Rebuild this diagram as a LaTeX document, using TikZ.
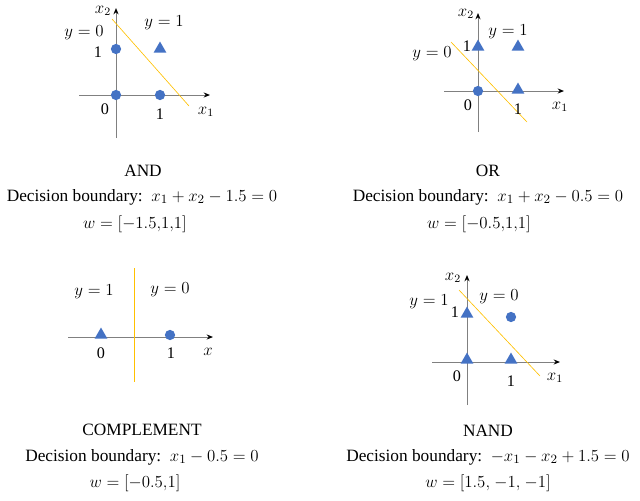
\documentclass[tikz,border=0pt]{standalone}
\usepackage{fontspec}
\setmainfont{Liberation Serif}
\usetikzlibrary{arrows.meta,shapes.geometric}

\definecolor{ptblue}{HTML}{4472C4}
\definecolor{axisgray}{HTML}{808080}
\definecolor{boundyellow}{HTML}{FFC000}

\begin{document}
\begin{tikzpicture}[
  x=0.025cm, y=-0.025cm,
  axis/.style={draw=axisgray, line width=0.7pt, -{Stealth[black, length=4.5pt, width=3.6pt]}},
  vaxis/.style={draw=axisgray, line width=0.7pt},
  bound/.style={draw=boundyellow, line width=0.45pt},
  posmark/.style={regular polygon, regular polygon sides=3, fill=ptblue, inner sep=0pt, minimum size=10.6pt},
  negmark/.style={circle, fill=ptblue, inner sep=0pt, minimum size=7.3pt},
  lbl/.style={inner sep=0pt, font=\fontsize{11.5}{13}\selectfont},
  caption/.style={inner sep=0pt, font=\fontsize{12.3}{14}\selectfont}
]
\useasboundingbox (0,0) rectangle (640,501);

% AND
\draw[vaxis] (116,138) -- (116,95);
\draw[axis] (79,95) -- (210,95);
\draw[axis] (116,95) -- (116,8);
\draw[bound] (112,19) -- (189,106);
\node[negmark] (and00) at (116,95) {};
\node[negmark] (and10) at (160,95) {};
\node[negmark] (and01) at (116,49) {};
\node[posmark] (and11) at (160,49) {};
\node[lbl] (andx2) at (103,11) {$x_2$};
\node[lbl] (andy0) at (84,33) {$y=0$};
\node[lbl] (andy1) at (164,23) {$y=1$};
\node[lbl] (andone) at (98,52) {1};
\node[lbl] (andzero) at (105,109) {0};
\node[lbl] (andonex) at (160,114) {1};
\node[lbl] (andx1) at (206,112) {$x_1$};
\node[caption] (andname) at (143,171) {AND};
\node[caption] (anddb) at (142,197) {Decision boundary:\ \ $x_1+x_2-1.5=0$};
\node[caption] (andw) at (135,224) {$w=[-1.5{,}1{,}1]$};

% OR
\draw[vaxis] (478,132) -- (478,91);
\draw[axis] (444,91) -- (564,91);
\draw[axis] (478,91) -- (478,13);
\draw[bound] (451,42) -- (527,122);
\node[negmark] (or00) at (478,91) {};
\node[posmark] (or10) at (518,90) {};
\node[posmark] (or01) at (478,47) {};
\node[posmark] (or11) at (518,47) {};
\node[lbl] (orx2) at (466,14) {$x_2$};
\node[lbl] (ory1) at (508,32) {$y=1$};
\node[lbl] (ory0) at (432,54) {$y=0$};
\node[lbl] (orone) at (467,46) {1};
\node[lbl] (orzero) at (468,105) {0};
\node[lbl] (oronex) at (518,109) {1};
\node[lbl] (orx1) at (560,107) {$x_1$};
\node[caption] (orname) at (488,171) {OR};
\node[caption] (ordb) at (488,197) {Decision boundary:\ \ $x_1+x_2-0.5=0$};
\node[caption] (orw) at (479,224) {$w=[-0.5{,}1{,}1]$};

% COMPLEMENT
\draw[axis] (68,337) -- (213,337);
\draw[bound] (134,268) -- (134,382);
\node[posmark] (comp0) at (101,335) {};
\node[negmark] (comp1) at (170,335) {};
\node[lbl] (compy1) at (94,292) {$y=1$};
\node[lbl] (compy0) at (170,290) {$y=0$};
\node[lbl] (compzero) at (101,353) {0};
\node[lbl] (compone) at (171,353) {1};
\node[lbl] (compx) at (208,352) {$x$};
\node[caption] (compname) at (142,430) {COMPLEMENT};
\node[caption] (compdb) at (142,457) {Decision boundary:\ \ $x_1-0.5=0$};
\node[caption] (compw) at (135,483) {$w=[-0.5{,}1]$};

% NAND
\draw[vaxis] (467,405) -- (467,362);
\draw[axis] (432,362) -- (560,362);
\draw[axis] (467,362) -- (467,275);
\draw[bound] (459,290) -- (540,376);
\node[posmark] (nand00) at (467,360) {};
\node[posmark] (nand10) at (511,360) {};
\node[posmark] (nand01) at (467,314) {};
\node[negmark] (nand11) at (511,317) {};
\node[lbl] (nandx2) at (453,278) {$x_2$};
\node[lbl] (nandy1) at (429,302) {$y=1$};
\node[lbl] (nandy0) at (499,297) {$y=0$};
\node[lbl] (nandone) at (455,312) {1};
\node[lbl] (nandzero) at (457,376) {0};
\node[lbl] (nandonex) at (511,381) {1};
\node[lbl] (nandx1) at (555,378) {$x_1$};
\node[caption] (nandname) at (488,431) {NAND};
\node[caption] (nanddb) at (488,457) {Decision boundary:\ \ $-x_1-x_2+1.5=0$};
\node[caption] (nandw) at (488,483) {$w=[1.5{,}\ {-1}{,}\ {-1}]$};
\end{tikzpicture}
\end{document}
